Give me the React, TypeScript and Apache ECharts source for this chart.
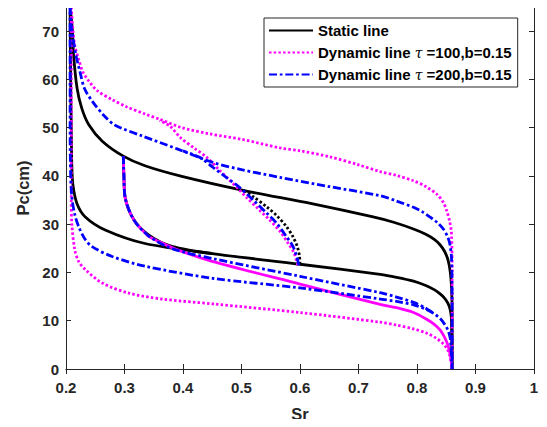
import React, { useEffect, useRef } from "react";
import * as echarts from "echarts";

const xTicks = [0.2, 0.3, 0.4, 0.5, 0.6, 0.7, 0.8, 0.9, 1];
const yTicks = [0, 10, 20, 30, 40, 50, 60, 70];

const NAME_STATIC = "Static line";
const NAME_D100 = "Dynamic line τ =100,b=0.15";
const NAME_D200 = "Dynamic line τ =200,b=0.15";

// Static (black solid) main drainage
const staticDrain: number[][] = [
  [0.208, 74], [0.211, 70], [0.213, 65], [0.219, 58.1], [0.227, 54], [0.239, 50.6],
  [0.262, 47.2], [0.298, 44.1], [0.335, 42.1], [0.398, 39.9], [0.503, 37], [0.622, 34.2],
  [0.725, 31.5], [0.76, 30.4], [0.794, 29.0], [0.815, 27.9], [0.83, 26.8], [0.839, 25.8],
  [0.847, 24.4], [0.853, 22.6], [0.857, 20], [0.859, 17], [0.86, 12], [0.86, 0],
];
// Static main imbibition
const staticImb: number[][] = [
  [0.207, 74], [0.208, 60], [0.209, 50], [0.21, 42], [0.212, 38], [0.219, 34.2], [0.233, 31.5],
  [0.267, 28.8], [0.335, 26], [0.45, 23.9], [0.6, 21.7], [0.737, 19.6], [0.765, 19],
  [0.794, 18.2], [0.815, 17.3], [0.83, 16.4], [0.839, 15.6], [0.847, 14.7], [0.853, 13.6],
  [0.857, 12.2], [0.859, 10], [0.86, 0],
];
// Static scanning imbibition from Sr=0.3
const staticScanImb: number[][] = [
  [0.298, 44.1], [0.299, 40], [0.301, 35.6], [0.316, 30.9], [0.341, 27.8], [0.381, 25.4], [0.45, 23.9],
];
// Static scanning drainage from Sr=0.6 (black dotted)
const staticScanDrain: number[][] = [
  [0.6, 21.7], [0.599, 23.5], [0.595, 25.5], [0.588, 27.4], [0.577, 29.5], [0.56, 31.8],
  [0.543, 33.6], [0.52, 35.7], [0.503, 37],
];

// Dynamic tau=100 (magenta dotted)
const d100Drain: number[][] = [
  [0.209, 75], [0.212, 70], [0.215, 67], [0.222, 64], [0.229, 61.5], [0.24, 59.5], [0.253, 57.7],
  [0.279, 55.8], [0.304, 54.3], [0.336, 52.8], [0.361, 51.7], [0.398, 50], [0.446, 48.7],
  [0.5, 47.6], [0.566, 45.8], [0.6, 45.2], [0.65, 44], [0.7, 42.3], [0.737, 40.9], [0.765, 40.1],
  [0.794, 39.0], [0.815, 37.8], [0.834, 36.2], [0.845, 34.5], [0.851, 32.7], [0.856, 30.5],
  [0.859, 28], [0.86, 20], [0.86, 0],
];
const d100Imb: number[][] = [
  [0.209, 75], [0.209, 45], [0.209, 35], [0.21, 30], [0.215, 24.7], [0.222, 22.2], [0.233, 20.6],
  [0.262, 17.8], [0.308, 15.7], [0.364, 14.5], [0.45, 13.5], [0.6, 11.7], [0.737, 9.7],
  [0.765, 9.1], [0.794, 8.3], [0.815, 7.5], [0.834, 6.3], [0.845, 5.2], [0.851, 4.3],
  [0.856, 2.8], [0.86, 0],
];
const d100ScanDrain: number[][] = [
  [0.596, 21.5], [0.59, 24], [0.58, 26], [0.566, 28.5], [0.547, 31], [0.53, 33], [0.509, 35.5],
  [0.497, 37], [0.475, 39.7], [0.463, 41.1], [0.441, 43.8], [0.42, 45.7], [0.395, 48],
  [0.378, 50.3], [0.36, 51.5],
];
// Magenta solid scanning imbibition from Sr=0.3
const d100ScanImb: number[][] = [
  [0.298, 44.1], [0.299, 40], [0.301, 35.6], [0.316, 30.9], [0.341, 27.5], [0.352, 26.8],
  [0.386, 24.9], [0.45, 22.3], [0.6, 17.6], [0.737, 13.4], [0.765, 12.7], [0.794, 11.7],
  [0.815, 10.4], [0.83, 9.2], [0.84, 8.0], [0.847, 6.6], [0.853, 4.9], [0.857, 2.8], [0.86, 0],
];

// Dynamic tau=200 (blue dash-dot)
const d200Drain: number[][] = [
  [0.207, 75], [0.209, 71], [0.212, 68.5], [0.217, 65], [0.224, 61.5], [0.232, 58], [0.246, 55.3],
  [0.265, 52.5], [0.284, 50.5], [0.33, 48.3], [0.39, 45.6], [0.451, 42.8], [0.5, 41.3],
  [0.566, 39.7], [0.65, 37.8], [0.737, 35.9], [0.765, 34.8], [0.794, 33.5], [0.81, 32.5],
  [0.822, 31.5], [0.835, 30.3], [0.845, 29], [0.852, 27.5], [0.856, 26], [0.859, 23],
  [0.86, 15], [0.86, 0],
];
const d200Imb: number[][] = [
  [0.207, 75], [0.207, 50], [0.208, 40], [0.21, 35.6], [0.215, 32], [0.222, 29.4], [0.232, 27],
  [0.244, 25.4], [0.279, 23.3], [0.335, 21.3], [0.45, 18.8], [0.6, 16.8], [0.737, 14.5],
  [0.765, 14], [0.794, 13.3], [0.815, 12.4], [0.83, 11.4], [0.84, 10.4], [0.847, 9.3],
  [0.853, 8.0], [0.857, 6.2], [0.86, 0],
];
const d200ScanImb: number[][] = [
  [0.298, 44.1], [0.299, 40], [0.301, 35.6], [0.316, 30.9], [0.341, 27.6], [0.38, 25],
  [0.45, 22.9], [0.6, 19.2], [0.737, 15.8], [0.765, 14.9], [0.794, 13.8], [0.815, 12.6],
  [0.83, 11.4],
];
const d200ScanDrain: number[][] = [
  [0.598, 21.5], [0.595, 23], [0.588, 25.4], [0.577, 27.4], [0.56, 30.2], [0.543, 32.3],
  [0.52, 35], [0.497, 37.6], [0.475, 39.6], [0.451, 41.8], [0.429, 43.8], [0.4, 45.2],
];

const BLACK = "#000000";
const MAGENTA = "#ff00ff";
const BLUE = "#0000ff";
const AXIS = "#262626";
const FONT = "'Liberation Sans', Arial, sans-serif";

function mk(name: string, data: number[][], color: string, type: any, z = 2, width = 2.8) {
  return {
    name,
    type: "line",
    data,
    showSymbol: false,
    symbol: "none",
    smooth: 0.3,
    z,
    lineStyle: { color, width, type, cap: "butt" },
    itemStyle: { color, opacity: 0 },
    emphasis: { disabled: true },
  };
}

const DOT = [2.5, 2.2];
const DASHDOT = [8, 2.8, 2.7, 2.8];

export default function App() {
  const ref = useRef<HTMLDivElement>(null);
  useEffect(() => {
    if (!ref.current) return;
    const chart = echarts.init(ref.current, undefined, { renderer: "svg" });
    const axisCommon = {
      axisLine: { show: true, lineStyle: { color: AXIS, width: 1 } },
      axisTick: { show: true, inside: true, length: 5, lineStyle: { color: AXIS, width: 1 } },
      splitLine: { show: false },
    };
    chart.setOption({
      animation: false,
      backgroundColor: "#ffffff",
      grid: { left: 66, right: 13, top: 7, bottom: 53, containLabel: false },
      legend: {
        show: true,
        orient: "vertical",
        left: 264,
        top: 18,
        padding: [5, 6, 5, 4],
        itemGap: 7,
        itemWidth: 44,
        itemHeight: 15,
        backgroundColor: "#ffffff",
        borderColor: AXIS,
        borderWidth: 1,
        borderRadius: 0,
        itemStyle: { opacity: 0 },
        data: [NAME_STATIC, NAME_D100, NAME_D200],
        formatter: (n: string) => n.replace("τ", "{t|τ}"),
        textStyle: {
          color: "#000000",
          fontFamily: FONT,
          fontWeight: "bold",
          fontSize: 15,
          rich: {
            t: {
              fontFamily: "'DejaVu Serif', 'Liberation Serif', serif",
              fontStyle: "italic",
              fontWeight: "normal",
              fontSize: 14,
              color: "#000000",
            },
          },
        },
      },
      xAxis: [
        {
          ...axisCommon,
          type: "value",
          min: 0.2,
          max: 1,
          interval: 0.1,
          position: "bottom",
          name: "Sr",
          nameLocation: "middle",
          nameGap: 36,
          nameTextStyle: { color: AXIS, fontFamily: FONT, fontWeight: "bold", fontSize: 16.5 },
          axisLabel: {
            color: AXIS,
            fontFamily: FONT,
            fontWeight: "bold",
            fontSize: 15,
            margin: 11,
            formatter: (v: number) => {
              const r = Math.round(v * 10) / 10;
              return xTicks.includes(r) ? String(r) : "";
            },
          },
        },
        {
          ...axisCommon,
          type: "value",
          min: 0.2,
          max: 1,
          interval: 0.1,
          position: "top",
          axisLabel: { show: false },
        },
      ],
      yAxis: [
        {
          ...axisCommon,
          type: "value",
          min: 0,
          max: 75,
          interval: 10,
          position: "left",
          name: "Pc(cm)",
          nameLocation: "middle",
          nameGap: 32,
          nameTextStyle: { color: AXIS, fontFamily: FONT, fontWeight: "bold", fontSize: 16.5 },
          axisLabel: {
            color: AXIS,
            fontFamily: FONT,
            fontWeight: "bold",
            fontSize: 15,
            margin: 7,
            showMaxLabel: false,
            formatter: (v: number) => (yTicks.includes(v) ? String(v) : ""),
          },
        },
        {
          ...axisCommon,
          type: "value",
          min: 0,
          max: 75,
          interval: 10,
          position: "right",
          axisLabel: { show: false },
        },
      ],
      series: [
        mk(NAME_STATIC, staticDrain, BLACK, "solid", 2),
        mk(NAME_STATIC, staticImb, BLACK, "solid", 2),
        mk(NAME_STATIC, staticScanImb, BLACK, "solid", 2),
        mk("static scanning drainage", staticScanDrain, BLACK, DOT, 2),
        mk("dynamic scanning imbibition", d100ScanImb, MAGENTA, "solid", 3),
        mk(NAME_D100, d100Drain, MAGENTA, DOT, 3),
        mk(NAME_D100, d100Imb, MAGENTA, DOT, 3),
        mk(NAME_D100, d100ScanDrain, MAGENTA, DOT, 3),
        mk(NAME_D200, d200Drain, BLUE, DASHDOT, 4),
        mk(NAME_D200, d200Imb, BLUE, DASHDOT, 4),
        mk(NAME_D200, d200ScanImb, BLUE, DASHDOT, 4),
        mk(NAME_D200, d200ScanDrain, BLUE, DASHDOT, 4),
      ],
    });
    return () => chart.dispose();
  }, []);
  return <div ref={ref} style={{ width: 547, height: 427, margin: -8 }} />;
}
